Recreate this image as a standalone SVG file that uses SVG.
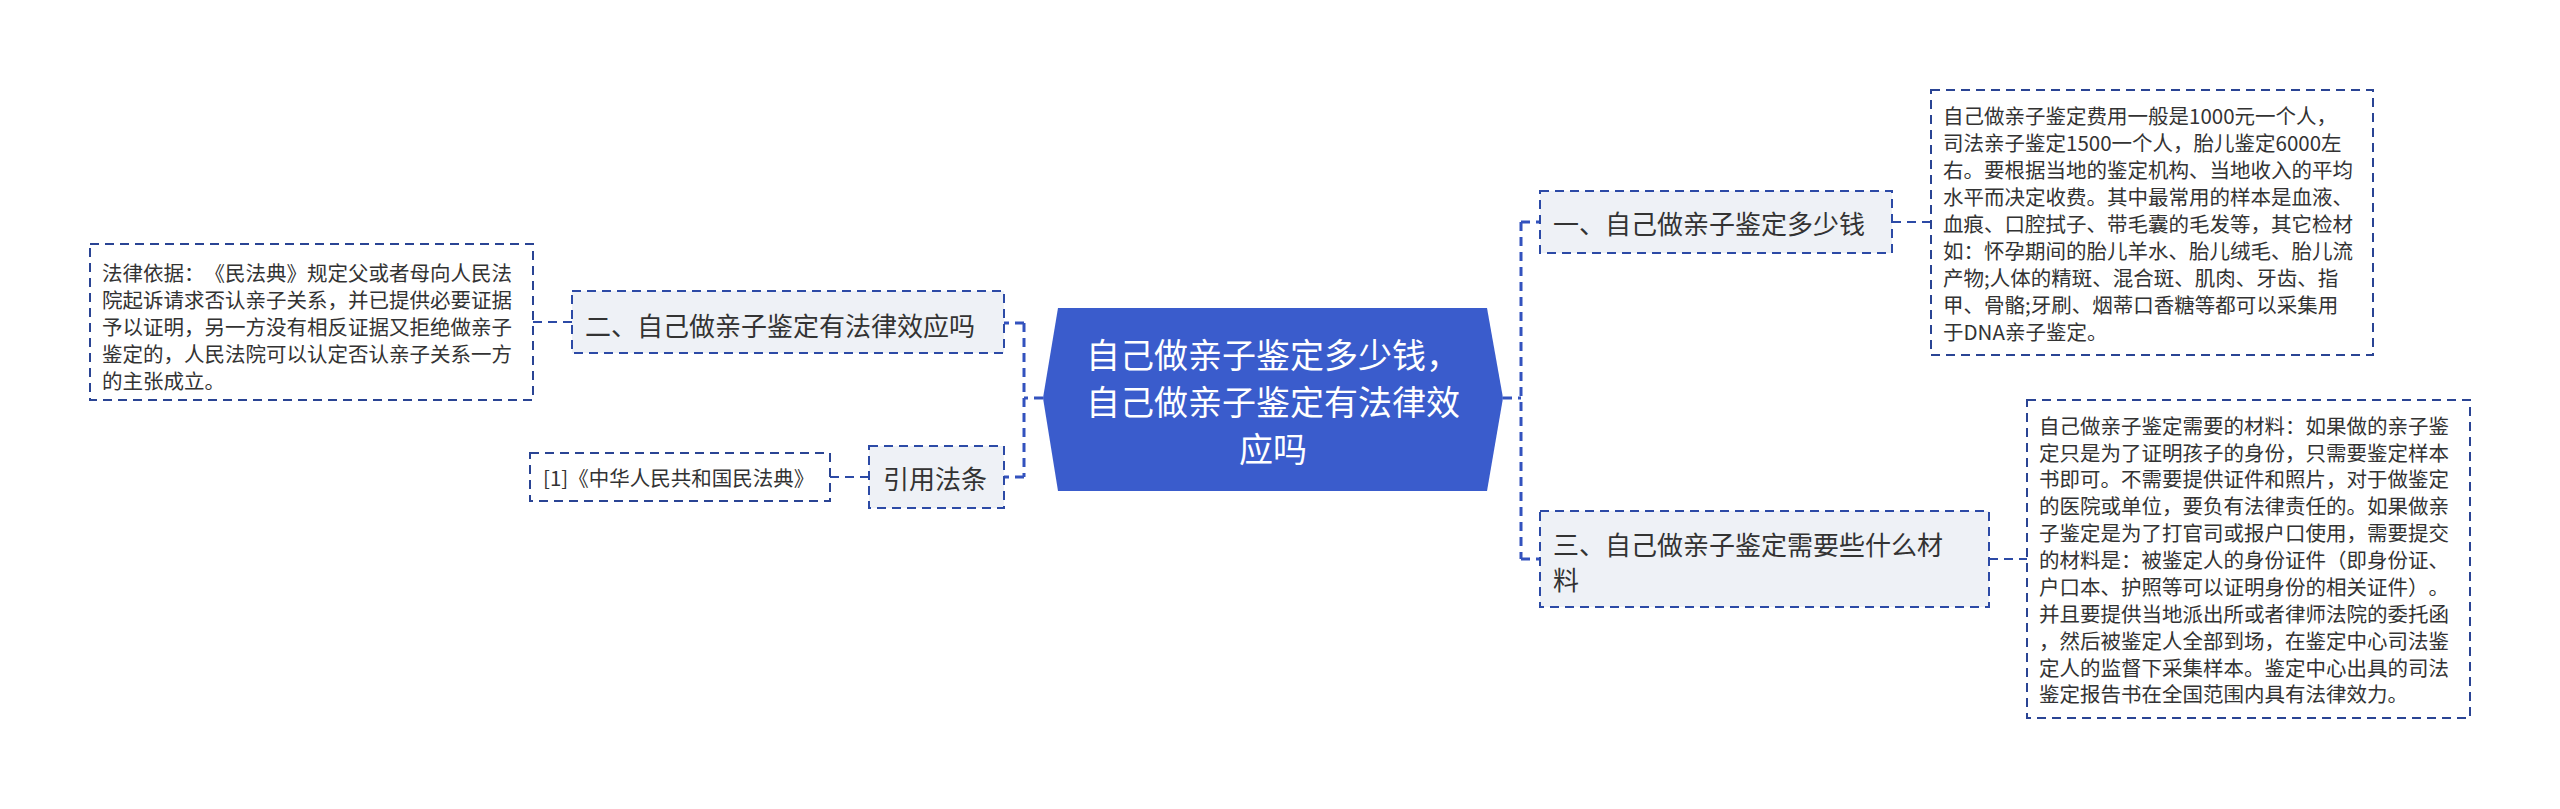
<svg xmlns="http://www.w3.org/2000/svg" width="2560" height="809" viewBox="0 0 2560 809">
<style>
text{font-family:"Noto Sans CJK SC","Noto Sans",sans-serif;fill:#333;text-spacing-trim:space-all;}
.bus{fill:none;stroke:#3352be;stroke-width:3;stroke-dasharray:9 6;}
.lk{fill:none;stroke:#2c4aa6;stroke-width:2;stroke-dasharray:9 6;}
.node{fill:#eef1f6;stroke:#2c4aa6;stroke-width:2;stroke-dasharray:9 6;}
.leaf{fill:#fff;stroke:#2a4494;stroke-width:2;stroke-dasharray:9 6;}
.nt{font-size:26px;dominant-baseline:central;}
.lt{font-size:20.5px;dominant-baseline:central;}
.ct{font-size:34px;fill:#fff;text-anchor:middle;dominant-baseline:central;}
</style>
<rect width="2560" height="809" fill="#fff"/>
<g id="connectors">
<path class="bus" d="M1503 398H1521M1521 222V559M1521 222H1540M1521 559H1540"/>
<path class="bus" d="M1043 398H1024M1024 323V477M1024 323H1004M1024 477H1004"/>
<path class="lk" d="M533 322H572"/>
<path class="lk" d="M830 477H869"/>
<path class="lk" d="M1892 222H1931"/>
<path class="lk" d="M1989 559H2027"/>
</g>
<g id="center">
<polygon points="1043,398 1058,308 1487,308 1503,398 1487,491 1058,491" fill="#3a5ccc"/>
<text class="ct" x="1273" y="353">自己做亲子鉴定多少钱，</text>
<text class="ct" x="1273" y="400">自己做亲子鉴定有法律效</text>
<text class="ct" x="1273" y="447">应吗</text>
</g>
<g id="n1">
<rect class="node" x="1540" y="191" width="352" height="62"/>
<text class="nt" x="1553" y="222">一、自己做亲子鉴定多少钱</text>
</g>
<g id="n3">
<rect class="node" x="1540" y="511" width="449" height="96"/>
<text class="nt" x="1553" y="543">三、自己做亲子鉴定需要些什么材</text>
<text class="nt" x="1553" y="578">料</text>
</g>
<g id="n2">
<rect class="node" x="572" y="291" width="432" height="62"/>
<text class="nt" x="585" y="324">二、自己做亲子鉴定有法律效应吗</text>
</g>
<g id="n4">
<rect class="node" x="869" y="446" width="135" height="62"/>
<text class="nt" x="883" y="477">引用法条</text>
</g>
<g id="leaf-law">
<rect class="leaf" x="530" y="453" width="300" height="48"/>
<text class="lt" x="543" y="477">[1]《中华人民共和国民法典》</text>
</g>
<g id="leaf-left">
<rect class="leaf" x="90" y="244" width="443" height="156"/>
<text class="lt" x="102" y="272">法律依据：《民法典》规定父或者母向人民法</text>
<text class="lt" x="102" y="299">院起诉请求否认亲子关系，并已提供必要证据</text>
<text class="lt" x="102" y="326">予以证明，另一方没有相反证据又拒绝做亲子</text>
<text class="lt" x="102" y="353">鉴定的，人民法院可以认定否认亲子关系一方</text>
<text class="lt" x="102" y="380">的主张成立。</text>
</g>
<g id="leaf-r1">
<rect class="leaf" x="1931" y="90" width="442" height="265"/>
<text class="lt" x="1943" y="115">自己做亲子鉴定费用一般是1000元一个人，</text>
<text class="lt" x="1943" y="142">司法亲子鉴定1500一个人，胎儿鉴定6000左</text>
<text class="lt" x="1943" y="169">右。要根据当地的鉴定机构、当地收入的平均</text>
<text class="lt" x="1943" y="196">水平而决定收费。其中最常用的样本是血液、</text>
<text class="lt" x="1943" y="223">血痕、口腔拭子、带毛囊的毛发等，其它检材</text>
<text class="lt" x="1943" y="250">如：怀孕期间的胎儿羊水、胎儿绒毛、胎儿流</text>
<text class="lt" x="1943" y="277">产物;人体的精斑、混合斑、肌肉、牙齿、指</text>
<text class="lt" x="1943" y="304">甲、骨骼;牙刷、烟蒂口香糖等都可以采集用</text>
<text class="lt" x="1943" y="331">于DNA亲子鉴定。</text>
</g>
<g id="leaf-r2">
<rect class="leaf" x="2027" y="400" width="443" height="318"/>
<text class="lt" x="2039" y="425">自己做亲子鉴定需要的材料：如果做的亲子鉴</text>
<text class="lt" x="2039" y="452">定只是为了证明孩子的身份，只需要鉴定样本</text>
<text class="lt" x="2039" y="478">书即可。不需要提供证件和照片，对于做鉴定</text>
<text class="lt" x="2039" y="505">的医院或单位，要负有法律责任的。如果做亲</text>
<text class="lt" x="2039" y="532">子鉴定是为了打官司或报户口使用，需要提交</text>
<text class="lt" x="2039" y="559">的材料是：被鉴定人的身份证件（即身份证、</text>
<text class="lt" x="2039" y="586">户口本、护照等可以证明身份的相关证件）。</text>
<text class="lt" x="2039" y="613">并且要提供当地派出所或者律师法院的委托函</text>
<text class="lt" x="2039" y="640">，然后被鉴定人全部到场，在鉴定中心司法鉴</text>
<text class="lt" x="2039" y="667">定人的监督下采集样本。鉴定中心出具的司法</text>
<text class="lt" x="2039" y="693">鉴定报告书在全国范围内具有法律效力。</text>
</g>
</svg>
